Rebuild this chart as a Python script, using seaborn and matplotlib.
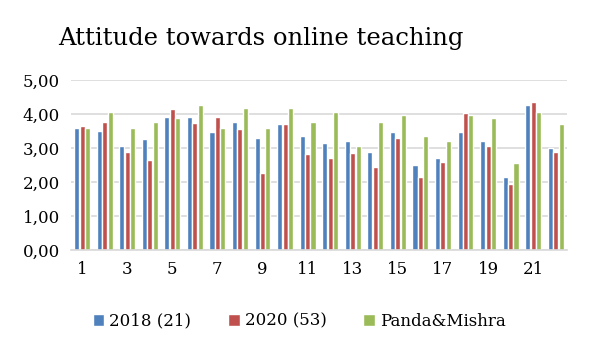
import pandas as pd
import matplotlib.pyplot as plt
import seaborn as sns

categories = [str(i) for i in range(1, 23)]
series_names = ['2018 (21)', '2020 (53)', 'Panda&Mishra']
vals_2018 = [3.60, 3.51, 3.07, 3.27, 3.92, 3.92, 3.48, 3.75, 3.30, 3.69, 3.36,
             3.13, 3.19, 2.89, 3.48, 2.51, 2.69, 3.48, 3.19, 2.13, 4.27, 3.01]
vals_2020 = [3.63, 3.75, 2.89, 2.63, 4.13, 3.72, 3.92, 3.57, 2.25, 3.69, 2.83,
             2.69, 2.86, 2.45, 3.30, 2.13, 2.60, 4.04, 3.07, 1.95, 4.36, 2.89]
vals_panda = [3.60, 4.07, 3.60, 3.77, 3.89, 4.27, 3.60, 4.16, 3.60, 4.16, 3.77,
              4.07, 3.07, 3.77, 3.98, 3.36, 3.19, 3.98, 3.89, 2.57, 4.07, 3.69]
colors = ['#4F81BD', '#C0504D', '#9BBB59']

df = pd.DataFrame({
    'Item': categories * 3,
    'Series': [series_names[0]] * 22 + [series_names[1]] * 22 + [series_names[2]] * 22,
    'Score': vals_2018 + vals_2020 + vals_panda,
})

sns.set_theme(style="white")
plt.rcParams['font.family'] = ['DejaVu Serif']
plt.rcParams['text.color'] = 'black'
plt.rcParams['xtick.color'] = 'black'
plt.rcParams['ytick.color'] = 'black'

fig = plt.figure(figsize=(5.9, 3.52), dpi=100)
ax = fig.add_axes([0.12, 0.29, 0.841, 0.483])
sns.barplot(data=df, x='Item', y='Score', hue='Series', palette=colors,
            width=0.72, gap=0.06, ax=ax, saturation=1, legend=True)

ax.set_ylim(0, 5)
ax.set_yticks([0, 1, 2, 3, 4, 5])
ax.set_yticklabels([f'{v},00' for v in range(6)], fontsize=12)
ax.set_xticks(range(22))
ax.set_xticklabels([c if i % 2 == 0 else '' for i, c in enumerate(categories)], fontsize=12)
ax.tick_params(axis='both', length=0, pad=8)
ax.set_xlabel('')
ax.set_ylabel('')
ax.yaxis.grid(True, color='#D9D9D9', linewidth=1.2)
ax.set_axisbelow(True)
for s in ['top', 'right', 'left']:
    ax.spines[s].set_visible(False)
ax.spines['bottom'].set_color('#D9D9D9')
ax.spines['bottom'].set_linewidth(1.2)
ax.set_xlim(-0.5, 21.5)

fig.text(0.443, 0.89, 'Attitude towards online teaching', ha='center', va='center', fontsize=17.5)

handles, labels = ax.get_legend_handles_labels()
ax.legend(handles, labels, loc='center', bbox_to_anchor=(0.46, -0.42), ncol=3,
          frameon=False, fontsize=12, handlelength=0.7, handleheight=0.7,
          handletextpad=0.3, columnspacing=2.2)

fig.savefig('out.png', dpi=100)
